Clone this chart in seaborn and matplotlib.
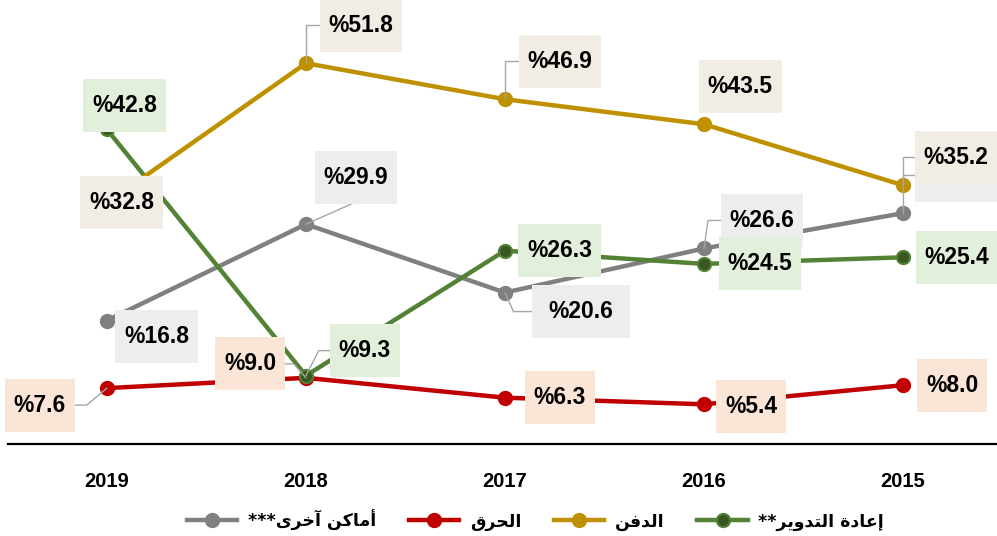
import matplotlib
matplotlib.use("Agg")
import matplotlib.pyplot as plt
from matplotlib.path import Path
from matplotlib.lines import Line2D
import numpy as np
import pandas as pd
import seaborn as sns

years = ["2015", "2016", "2017", "2018", "2019"]
recycling = [25.4, 24.5, 26.3, 9.3, 42.8]
landfill = [35.2, 43.5, 46.9, 51.8, 32.8]
incineration = [8.0, 5.4, 6.3, 9.0, 7.6]
other = [31.4, 26.6, 20.6, 29.9, 16.8]
names = {
    "recycling": "إعادة التدوير**",
    "landfill": "الدفن",
    "incineration": "الحرق",
    "other": "أماكن آخرى***",
}

# simple arabic shaping (presentation forms) + reversal, matplotlib has no bidi
AR = {'ا': (0xFE8D, 2), 'أ': (0xFE83, 2), 'إ': (0xFE87, 2), 'آ': (0xFE81, 2),
      'ة': (0xFE93, 2), 'ت': (0xFE95, 4), 'ح': (0xFEA1, 4), 'خ': (0xFEA5, 4),
      'د': (0xFEA9, 2), 'ر': (0xFEAD, 2), 'ع': (0xFEC9, 4), 'ف': (0xFED1, 4),
      'ق': (0xFED5, 4), 'ك': (0xFED9, 4), 'ل': (0xFEDD, 4), 'م': (0xFEE1, 4),
      'ن': (0xFEE5, 4), 'و': (0xFEED, 2), 'ى': (0xFEEF, 2), 'ي': (0xFEF1, 4)}


def shape(s):
    out = []
    for i, ch in enumerate(s):
        if ch not in AR:
            out.append(ch)
            continue
        base, n = AR[ch]
        prev = s[i - 1] if i > 0 else ""
        nxt = s[i + 1] if i + 1 < len(s) else ""
        jp = prev in AR and AR[prev][1] == 4
        jn = n == 4 and nxt in AR
        off = 3 if (jp and jn) else 1 if jp else 2 if jn else 0
        out.append(chr(base + off))
    return "".join(out[::-1])


values = {"recycling": recycling, "landfill": landfill,
          "incineration": incineration, "other": other}
df = pd.DataFrame({
    "series": [k for k in values for _ in years],
    "pos": list(range(len(years))) * len(values),
    "value": recycling + landfill + incineration + other,
})

styles = {
    "recycling": dict(color="#548235", mfc="#385723", box="#E2EFDA", z=4),
    "landfill": dict(color="#BF9000", mfc="#BF9000", box="#F1EDE5", z=5),
    "incineration": dict(color="#C00000", mfc="#C00000", box="#FBE5D6", z=2),
    "other": dict(color="#808080", mfc="#808080", box="#EDEDED", z=3),
}

# label offsets in pixels (dx, dy up) and leader style
EL = "angle,angleA=0,angleB=90,rad=0"
label_pos = {
    ("recycling", 0): (54, 0, None), ("recycling", 1): (56, 0, None),
    ("recycling", 2): (55, 0, None), ("recycling", 3): (59, 25, "angle,angleA=0,angleB=63,rad=0"),
    ("recycling", 4): (18, 24, None),
    ("landfill", 0): (53, 28, EL), ("landfill", 1): (36, 38, None),
    ("landfill", 2): (55, 38, EL), ("landfill", 3): (55, 38, EL),
    ("landfill", 4): (15, 0, None),
    ("incineration", 0): (49, 0, None), ("incineration", 1): (47, -2, None),
    ("incineration", 2): (55, 0, None), ("incineration", 3): (-56, 14, "angle,angleA=0,angleB=-49,rad=0"),
    ("incineration", 4): (-67, -17, "angle,angleA=0,angleB=40,rad=0"),
    ("other", 0): (53, 38, EL), ("other", 1): (58, 28, "angle,angleA=0,angleB=82,rad=0"),
    ("other", 2): (76, -19, "angle,angleA=0,angleB=-66,rad=0"),
    ("other", 3): (50, 47, "angle,angleA=90,angleB=24,rad=0"),
    ("other", 4): (50, -16, None),
}
# the 2015 "other" label sits behind the landfill label in the original
hidden = {("other", 0)}
wide = {("other", 2)}


def make_box(extra=18, fixed=None):
    def box(x0, y0, width, height, mutation_size):
        cx, cy = x0 + width / 2, y0 + height / 2
        w = fixed if fixed else width + extra
        h = 53
        v = [(cx - w / 2, cy - h / 2), (cx + w / 2, cy - h / 2),
             (cx + w / 2, cy + h / 2), (cx - w / 2, cy + h / 2), (cx - w / 2, cy - h / 2)]
        return Path(v, closed=True)
    return box


fig = plt.figure(figsize=(9.97, 5.36), dpi=100)
ax = fig.add_axes([8 / 997, 92 / 536, 989 / 997, 444 / 536])

for key, st in styles.items():
    sns.lineplot(data=df[df.series == key], x="pos", y="value", ax=ax,
                 color=st["color"], linewidth=3.2, marker="o", markersize=9.5,
                 markerfacecolor=st["mfc"], markeredgecolor=st["color"],
                 markeredgewidth=1.5, zorder=st["z"], sort=False, legend=False)

for key in ["other", "incineration", "landfill", "recycling"]:
    st = styles[key]
    for i, v in enumerate(values[key]):
        dx, dy, conn = label_pos[(key, i)]
        arrow = None
        if conn:
            arrow = dict(arrowstyle="-", color="#A6A6A6", lw=1.0,
                         connectionstyle=conn, shrinkA=0, shrinkB=0)
        is_hidden = (key, i) in hidden
        if is_hidden:
            bstyle = make_box(fixed=82)
        elif (key, i) in wide:
            bstyle = make_box(extra=34)
        else:
            bstyle = make_box()
        ax.annotate(" " if is_hidden else f"%{v:.1f}", xy=(i, v), xytext=(dx, dy),
                    textcoords="offset pixels", ha="center", va="center",
                    fontsize=16.5, fontweight="bold", family="Liberation Sans",
                    color="black", zorder=10 if key != "other" else 8,
                    bbox=dict(boxstyle=bstyle, fc=st["box"], ec="none"),
                    arrowprops=arrow)

ax.set_xlim(4.497, -0.472)
ax.set_ylim(0, 60.4)
ax.set_xticks(range(len(years)))
ax.set_xticklabels(years, fontsize=14.5, fontweight="bold", family="Liberation Sans")
ax.tick_params(axis="x", length=0, pad=20)
ax.set_yticks([])
ax.set_xlabel("")
ax.set_ylabel("")
for s in ["top", "left", "right"]:
    ax.spines[s].set_visible(False)
ax.spines["bottom"].set_linewidth(1.6)
ax.spines["bottom"].set_color("black")

handles = []
for key in ["other", "incineration", "landfill", "recycling"]:
    st = styles[key]
    handles.append(Line2D([], [], color=st["color"], lw=3.2, marker="o", markersize=9.5,
                          markerfacecolor=st["mfc"], markeredgecolor=st["color"],
                          markeredgewidth=1.5, label=shape(names[key])))
fig.legend(handles=handles, loc="center", bbox_to_anchor=(0.537, 16 / 536), ncol=4,
           frameon=False, handlelength=2.9, handletextpad=0.6, columnspacing=1.9,
           prop=dict(family="DejaVu Sans", weight="bold", size=12.5))

fig.savefig("out.png", dpi=100)
